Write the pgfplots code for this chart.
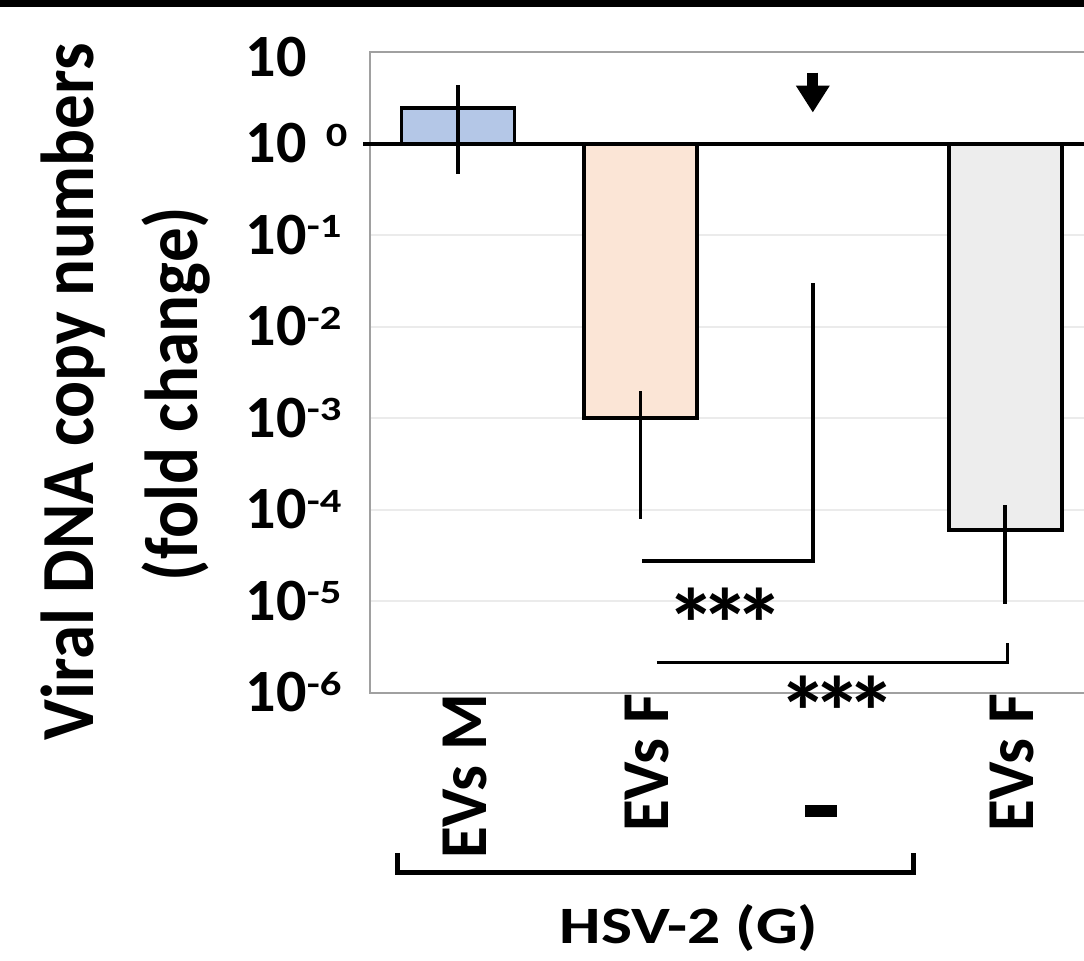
\documentclass[border=0pt]{standalone}
\usepackage{pgfplots}
\pgfplotsset{compat=1.18}
\usepackage{fontspec}
\setmainfont{Carlito}
\usepackage{graphicx}
\usetikzlibrary{arrows.meta}

\definecolor{barM}{HTML}{B4C7E7}
\definecolor{barF}{HTML}{FBE5D6}
\definecolor{barG}{HTML}{EDEDED}
\definecolor{framec}{HTML}{A0A0A0}
\definecolor{gridc}{HTML}{EBEBEB}

% condensed rotated labels
\newcommand{\sq}[1]{\scalebox{0.97}[1]{#1}}
% small exponent, top aligned with the digits
\newcommand{\sups}[1]{\raisebox{3.3pt}{\scalebox{1}[0.8]{\fontsize{8.5}{8.5}\selectfont #1}}}
\newcommand{\ex}[1]{10\sups{#1}}
\newcommand{\stars}{*\kern-3.1pt*\kern-3.1pt*}

\begin{document}
\begin{tikzpicture}[font=\bfseries]
\begin{axis}[
  at={(74pt,53.6pt)}, anchor=south west,
  scale only axis, width=145.3pt, height=128.2pt,
  ymode=log, log origin y=0,
  ymin=1e-6, ymax=10,
  xmin=-0.482, xmax=3.5,
  axis line style={draw=none},
  tick style={draw=none},
  major tick length=0pt, minor tick length=0pt,
  ymajorgrids, grid style={gridc, line width=0.4pt},
  ytick={1e-6,1e-5,1e-4,1e-3,1e-2,1e-1,1,10},
  yticklabels={\ex{-6},\ex{-5},\ex{-4},\ex{-3},\ex{-2},\ex{-1},{10\hspace{3.8pt}\sups{0}},{\raisebox{-1.2pt}{10}}},
  yticklabel style={anchor=base west, inner sep=0pt, xshift=-25pt, yshift=-3.8pt,
    font=\fontsize{12}{12}\selectfont\bfseries},
  xtick={0,1,1.95,3},
  xticklabels={\sq{EVs M},\sq{EVs F},{\rule{2.4pt}{6.4pt}\rule{22.2pt}{0pt}},\sq{EVs F}},
  xticklabel style={rotate=90, anchor=east, inner sep=0pt, yshift=-1.4pt,
    font=\fontsize{13.4}{14}\selectfont\bfseries},
  clip=false,
]
% frame (the right side is cut off)
\draw[framec, line width=0.5pt] (rel axis cs:1.02,1) -- (rel axis cs:0,1) -- (rel axis cs:0,0) -- (rel axis cs:1.02,0);

% bars, starting at 10^0
\addplot[ybar, bar width=0.62, bar shift=0pt, fill=barM, draw=black, line width=0.75pt]
  coordinates {(0,2.45)};
\addplot[ybar, bar width=0.62, bar shift=0pt, fill=barF, draw=black, line width=0.75pt]
  coordinates {(1,1e-3)};
\addplot[ybar, bar width=0.62, bar shift=0pt, fill=barG, draw=black, line width=0.75pt]
  coordinates {(3,6e-5)};

% error bars (low, high)
\addplot[black, line width=0.75pt] coordinates {(0,0.47) (0,4.4)};
\addplot[black, line width=0.75pt] coordinates {(1,8e-5) (1,2e-3)};
\addplot[black, line width=0.75pt] coordinates {(3,9.4e-6) (3,1.12e-4)};

% baseline at 10^0
\draw[line width=0.8pt] (axis cs:-0.52,1) -- (axis cs:3.55,1);
% arrow over the untreated group
\draw[line width=2.2pt, -{Triangle[width=6.4pt,length=5.4pt]}] (axis cs:1.945,5.94) -- (axis cs:1.945,2.18);
% significance brackets
\draw[line width=0.8pt] (axis cs:1.01,2.77e-5) -- (axis cs:1.945,2.77e-5) -- (axis cs:1.945,0.0297);
\draw[line width=0.6pt] (axis cs:1.09,2.13e-6) -- (axis cs:3.01,2.13e-6) -- (axis cs:3.01,3.53e-6);
\node[font=\fontsize{20}{20}\selectfont\bfseries, yshift=-4.6pt] at (axis cs:1.465,1.02e-5) {\stars};
\node[font=\fontsize{20}{20}\selectfont\bfseries, yshift=-4.6pt] at (axis cs:2.08,1.12e-6) {\stars};
\end{axis}

% y axis title, two lines
\node[rotate=90, anchor=base, font=\fontsize{15}{15}\selectfont\bfseries]
  at (18.6pt,113.8pt) {\scalebox{0.92}[1]{Viral DNA copy numbers}};
\node[rotate=90, anchor=base, font=\fontsize{15}{15}\selectfont\bfseries]
  at (39.4pt,113.4pt) {\scalebox{0.92}[1]{(fold change)}};

% group bracket and name
\draw[line width=1pt] (79.4pt,21.6pt) -- (79.4pt,17.6pt) -- (182.6pt,17.6pt) -- (182.6pt,21.6pt);
\node[font=\fontsize{10.5}{10.5}\selectfont\bfseries] at (137.8pt,6.6pt) {\scalebox{1.25}[1]{HSV-2 (G)}};

% dark strip along the top edge
\fill[black] (0pt,190.8pt) rectangle (216.8pt,192.2pt);

\pgfresetboundingbox
\useasboundingbox (0pt,0pt) rectangle (216.8pt,192.2pt);
\end{tikzpicture}
\end{document}
